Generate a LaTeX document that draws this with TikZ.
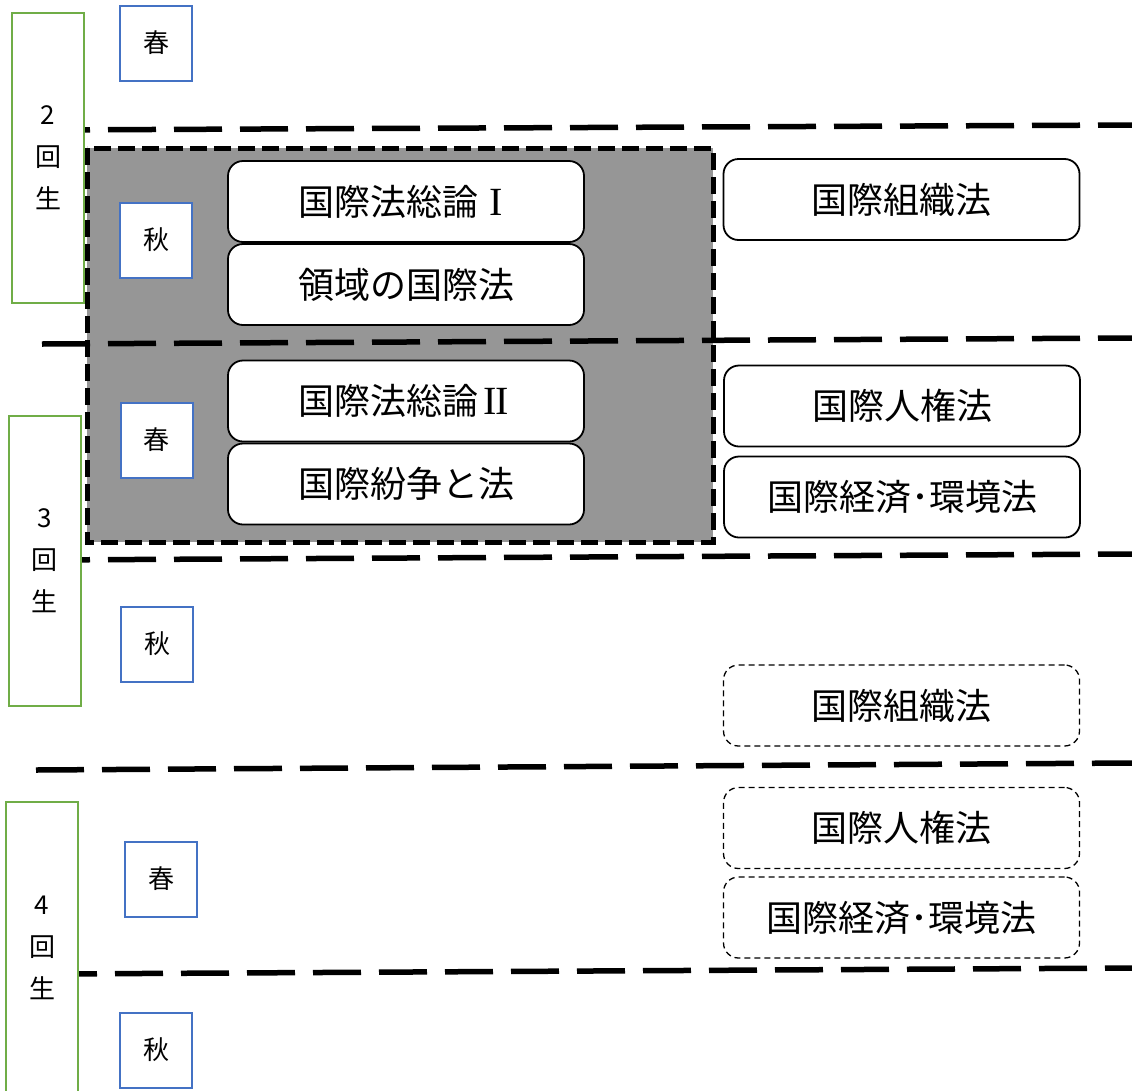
\documentclass[tikz,border=0pt]{standalone}
\usepackage{fontspec}
\setmainfont{Noto Sans CJK JP}
\newfontfamily\numfont{Liberation Serif}

\definecolor{termblue}{RGB}{68,114,196}
\definecolor{yeargreen}{RGB}{112,173,71}
\definecolor{focusgray}{RGB}{150,150,150}

\def\cw{356pt}
\def\ch{81pt}
\newcommand{\romnum}[1]{\makebox[1em]{\numfont\fontsize{40}{40}\selectfont #1}}

\begin{document}
\begin{tikzpicture}[x=1pt, y=-1pt,
        yearbox/.style={draw=yeargreen, line width=2pt, fill=white,
                        minimum width=72pt, align=center,
                        font=\fontsize{26}{42}\selectfont},
        termbox/.style={draw=termblue, line width=2pt, fill=white,
                        minimum width=72pt, minimum height=75pt,
                        font=\fontsize{26}{30}\selectfont},
        course/.style={draw, line width=1.8pt, fill=white, rounded corners=15pt,
                       minimum width=\cw, minimum height=\ch,
                       font=\fontsize{36}{40}\selectfont},
        later/.style={course, line width=1.3pt, dash pattern=on 6pt off 4pt},
        sepline/.style={line width=5.5pt, dash pattern=on 48pt off 18pt},
        focus/.style={fill=focusgray, draw, line width=5pt,
                      dash pattern=on 17pt off 7pt}
    ]
\useasboundingbox (0,0) rectangle (1132,1090);

\draw [focus] (87,148) rectangle (713,542);

\foreach \ya/\yb/\xs in {130/125/42, 344/338/42, 560/554/42, 770/763/36, 974/968/49}
    \draw [sepline] (\xs,\ya) -- (1132,\yb);

\node [yearbox, minimum height=290pt] (year2) at (48,158)  {2\\回\\生};
\node [yearbox, minimum height=290pt] (year3) at (44.5,561) {3\\回\\生};
\node [yearbox, minimum height=292pt] (year4) at (42,948)  {4\\回\\生};

\node [termbox] (spring2) at (156,43)    {春};
\node [termbox] (autumn2) at (156,240)   {秋};
\node [termbox] (spring3) at (156.5,440) {春};
\node [termbox] (autumn3) at (157,644)   {秋};
\node [termbox] (spring4) at (161,879)   {春};
\node [termbox] (autumn4) at (156,1050)  {秋};

\node [course] (general1) at (406,201.5) {国際法総論\romnum{I}};
\node [course] (territory) at (406,284.5) {領域の国際法};
\node [course] (general2) at (406,401)   {国際法総論\romnum{I\kern-1.5pt I}};
\node [course] (dispute)  at (406,484)   {国際紛争と法};

\node [course] (org)   at (901.5,199.5) {国際組織法};
\node [course] (human) at (902,406)     {国際人権法};
\node [course] (econ)  at (902,497)     {国際経済･環境法};

\node [later] (orglate)   at (901.5,705.5) {国際組織法};
\node [later] (humanlate) at (901.5,828)   {国際人権法};
\node [later] (econlate)  at (901.5,917.5) {国際経済･環境法};
\end{tikzpicture}
\end{document}
